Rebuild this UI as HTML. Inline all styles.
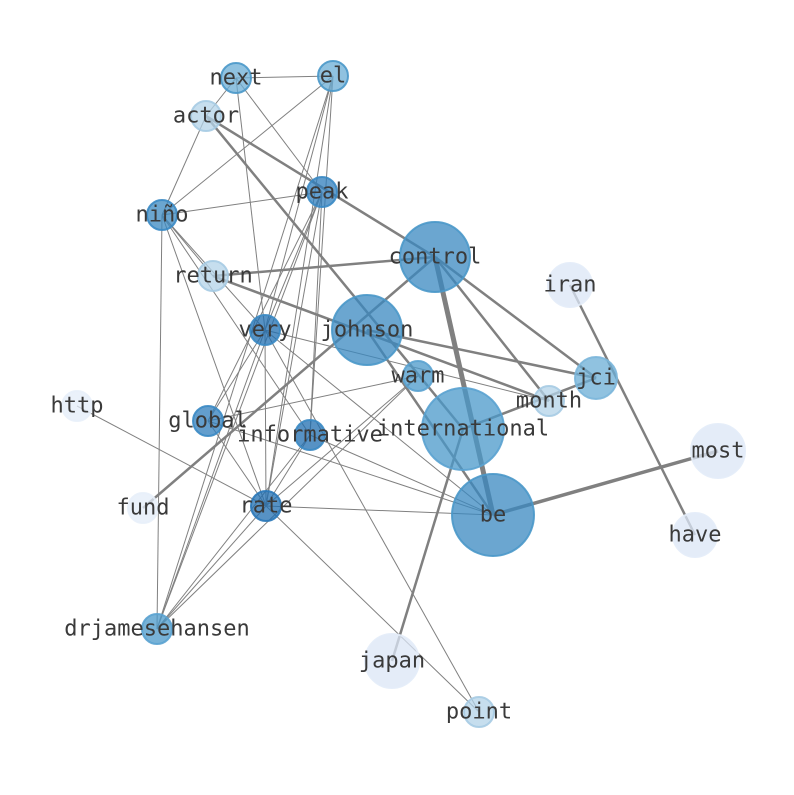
<!DOCTYPE html>
<html><head><meta charset="utf-8"><style>body{margin:0;background:#fff}</style></head><body>
<svg width="794" height="790" xmlns="http://www.w3.org/2000/svg">
<g stroke="#808080" stroke-width="1">
<line x1="236" y1="78" x2="333" y2="76"/>
<line x1="236" y1="78" x2="206" y2="116"/>
<line x1="236" y1="78" x2="322" y2="192"/>
<line x1="236" y1="78" x2="265" y2="330"/>
<line x1="333" y1="76" x2="162" y2="215"/>
<line x1="333" y1="76" x2="265" y2="330"/>
<line x1="333" y1="76" x2="266" y2="506"/>
<line x1="333" y1="76" x2="310" y2="435"/>
<line x1="333" y1="76" x2="157" y2="629"/>
<line x1="206" y1="116" x2="162" y2="215"/>
<line x1="162" y1="215" x2="322" y2="192"/>
<line x1="162" y1="215" x2="213" y2="276"/>
<line x1="162" y1="215" x2="265" y2="330"/>
<line x1="162" y1="215" x2="266" y2="506"/>
<line x1="162" y1="215" x2="157" y2="629"/>
<line x1="162" y1="215" x2="310" y2="435"/>
<line x1="77" y1="406" x2="266" y2="506"/>
<line x1="266" y1="506" x2="493" y2="515"/>
<line x1="266" y1="506" x2="479" y2="712"/>
<line x1="266" y1="506" x2="208" y2="421"/>
<line x1="266" y1="506" x2="265" y2="330"/>
<line x1="266" y1="506" x2="310" y2="435"/>
<line x1="266" y1="506" x2="418" y2="376"/>
<line x1="266" y1="506" x2="157" y2="629"/>
<line x1="266" y1="506" x2="322" y2="192"/>
<line x1="208" y1="421" x2="418" y2="376"/>
<line x1="208" y1="421" x2="493" y2="515"/>
<line x1="208" y1="421" x2="265" y2="330"/>
<line x1="208" y1="421" x2="322" y2="192"/>
<line x1="310" y1="435" x2="493" y2="515"/>
<line x1="310" y1="435" x2="322" y2="192"/>
<line x1="265" y1="330" x2="479" y2="712"/>
<line x1="265" y1="330" x2="493" y2="515"/>
<line x1="265" y1="330" x2="549" y2="401"/>
<line x1="265" y1="330" x2="322" y2="192"/>
<line x1="157" y1="629" x2="265" y2="330"/>
<line x1="157" y1="629" x2="322" y2="192"/>
<line x1="157" y1="629" x2="418" y2="376"/>
<line x1="157" y1="629" x2="310" y2="435"/>
</g>
<g stroke="#808080" stroke-width="2.5">
<line x1="206" y1="116" x2="435" y2="257"/>
<line x1="206" y1="116" x2="463" y2="429"/>
<line x1="213" y1="276" x2="435" y2="257"/>
<line x1="213" y1="276" x2="549" y2="401"/>
<line x1="143" y1="508" x2="435" y2="257"/>
<line x1="435" y1="257" x2="596" y2="378"/>
<line x1="435" y1="257" x2="549" y2="401"/>
<line x1="367" y1="330" x2="596" y2="378"/>
<line x1="367" y1="330" x2="493" y2="515"/>
<line x1="463" y1="429" x2="596" y2="378"/>
<line x1="570" y1="285" x2="695" y2="535"/>
<line x1="392" y1="661" x2="463" y2="429"/>
</g>
<line x1="493" y1="515" x2="718" y2="451" stroke="#808080" stroke-width="3.5"/>
<line x1="435" y1="257" x2="493" y2="515" stroke="#808080" stroke-width="5"/>
<g stroke-width="2" fill-opacity="0.75" stroke-opacity="0.9">
<circle cx="236" cy="78" r="15" fill="#6baed6" stroke="#4a98c9"/>
<circle cx="333" cy="76" r="15" fill="#6baed6" stroke="#4a98c9"/>
<circle cx="206" cy="116" r="15" fill="#b3d3e8" stroke="#a6cbe3"/>
<circle cx="322" cy="192" r="15" fill="#2f7ebc" stroke="#3a8ac4"/>
<circle cx="162" cy="215" r="15" fill="#3a88c0" stroke="#3a8ac4"/>
<circle cx="435" cy="257" r="35" fill="#3a88c0" stroke="#4a98c9"/>
<circle cx="570" cy="285" r="22" fill="#dbe6f5" stroke="#e3ecf8"/>
<circle cx="213" cy="276" r="15" fill="#b3d3e8" stroke="#a6cbe3"/>
<circle cx="265" cy="330" r="15" fill="#1f6eb0" stroke="#3a8ac4"/>
<circle cx="367" cy="330" r="35" fill="#3a88c0" stroke="#4a98c9"/>
<circle cx="418" cy="376" r="15" fill="#4a98c9" stroke="#5aa2d0"/>
<circle cx="596" cy="378" r="21" fill="#6baed6" stroke="#7bb6da"/>
<circle cx="549" cy="401" r="15" fill="#b3d3e8" stroke="#a6cbe3"/>
<circle cx="77" cy="406" r="15" fill="#e3ecf8" stroke="#e8eff9"/>
<circle cx="208" cy="421" r="15" fill="#2f7ebc" stroke="#3a8ac4"/>
<circle cx="310" cy="435" r="15" fill="#1f6eb0" stroke="#3a8ac4"/>
<circle cx="463" cy="429" r="41" fill="#4a98c9" stroke="#5aa2d0"/>
<circle cx="718" cy="451" r="27" fill="#dbe6f5" stroke="#e3ecf8"/>
<circle cx="143" cy="508" r="15" fill="#e3ecf8" stroke="#e8eff9"/>
<circle cx="266" cy="506" r="15" fill="#1f6eb0" stroke="#2a78b8"/>
<circle cx="493" cy="515" r="41" fill="#3a88c0" stroke="#4a98c9"/>
<circle cx="695" cy="535" r="22" fill="#dbe6f5" stroke="#e3ecf8"/>
<circle cx="157" cy="629" r="15" fill="#4a98c9" stroke="#5aa2d0"/>
<circle cx="392" cy="661" r="27" fill="#dbe6f5" stroke="#e3ecf8"/>
<circle cx="479" cy="712" r="15" fill="#b3d3e8" stroke="#a6cbe3"/>
</g>
<g font-family="DejaVu Sans Mono, Liberation Mono, monospace" font-size="22" fill="#3a3a3a" text-anchor="middle" dominant-baseline="central">
<text x="236" y="78">next</text><text x="333" y="76">el</text><text x="206" y="116">actor</text>
<text x="322" y="192">peak</text><text x="162" y="215">niño</text><text x="435" y="257">control</text>
<text x="570" y="285">iran</text><text x="213" y="276">return</text><text x="265" y="330">very</text>
<text x="367" y="330">johnson</text><text x="418" y="376">warm</text><text x="596" y="378">jci</text>
<text x="549" y="401">month</text><text x="77" y="406">http</text><text x="208" y="421">global</text>
<text x="310" y="435">informative</text><text x="463" y="429">international</text><text x="718" y="451">most</text>
<text x="143" y="508">fund</text><text x="266" y="506">rate</text><text x="493" y="515">be</text>
<text x="695" y="535">have</text><text x="157" y="629">drjamesehansen</text><text x="392" y="661">japan</text>
<text x="479" y="712">point</text>
</g>
</svg>
</body></html>
